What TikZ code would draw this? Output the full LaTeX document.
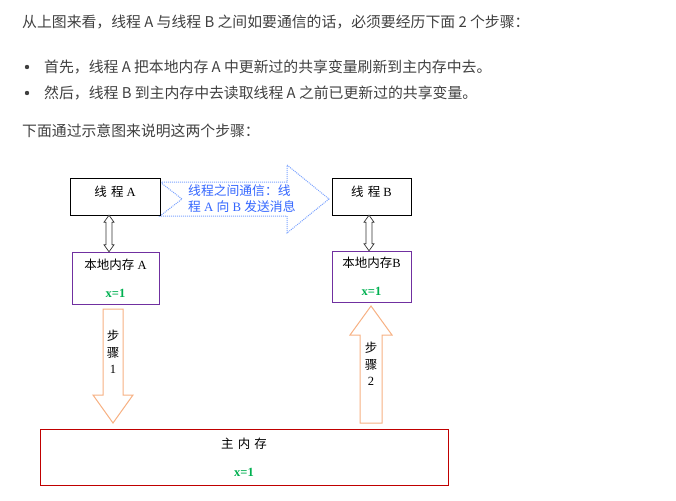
\documentclass[tikz,border=0pt]{standalone}
\usepackage{fontspec}
\usepackage{xcolor}
\usepackage{tikz}
\usetikzlibrary{positioning, calc}
\setmainfont{Liberation Serif}
\newfontfamily\cjk{Noto Sans CJK SC}
\definecolor{mygray}{rgb}{0.25, 0.25, 0.25}
\definecolor{myblue}{HTML}{3366FF}
\definecolor{mylightblue}{HTML}{7BA3FF}
\definecolor{mypurple}{HTML}{7030A0}
\definecolor{myred}{HTML}{C00000}
\definecolor{myorange}{HTML}{F7B183}
\definecolor{mygreen}{HTML}{00B050}
\tikzstyle{para} = [anchor=west, inner sep=0pt, text=mygray, font=\cjk\fontsize{14.85}{18}\selectfont]
\tikzstyle{thread} = [draw=black, minimum height=37pt, inner sep=0pt, text height=9pt, text depth=9pt, font=\fontsize{12.5}{14}\selectfont]
\tikzstyle{memory} = [minimum height=52pt, inner sep=0pt, align=center, font=\fontsize{12.5}{14}\selectfont]
\tikzstyle{link} = [draw=black!80, fill=white, line width=0.7pt]
\tikzstyle{steparrow} = [draw=myorange, fill=white, line width=1pt]
\tikzstyle{steptext} = [align=center, inner sep=0pt, font=\fontsize{12.5}{16.5}\selectfont]
\newcommand{\xval}{\textcolor{mygreen}{\bfseries x=1}}

\begin{document}
\begin{tikzpicture}[x=1pt, y=-1pt]
    \useasboundingbox (0,0) rectangle (676,500);
    % text above the figure
    \node[para] (intro) at (22,22) {从上图来看，线程 A 与线程 B 之间如要通信的话，必须要经历下面 2 个步骤：};
    \foreach \y in {67,93} \fill[mygray] (27,\y) circle (2.2pt);
    \node[para] (first) at (44,67) {首先，线程 A 把本地内存 A 中更新过的共享变量刷新到主内存中去。};
    \node[para] (then) at (44,93) {然后，线程 B 到主内存中去读取线程 A 之前已更新过的共享变量。};
    \node[para] (below) at (22,131) {下面通过示意图来说明这两个步骤：};

    % message between the threads
    \draw[mylightblue, densely dotted, line width=1pt, fill=white] (160,182) -- (287,182) -- (287,165) -- (329,199) -- (287,233) -- (287,216) -- (160,216) -- (182,199) -- cycle;
    \node[anchor=north west, align=left, inner sep=0pt, text=myblue, font=\fontsize{12.8}{16}\selectfont] (msg) at (188,184) {{\cjk 线程之间通信：线}\\{\cjk 程} A {\cjk 向} B {\cjk 发送消息}};

    \node[thread, minimum width=90pt] (ta) at (115,196.5) {{\cjk 线\,\,程} A};
    \node[thread, minimum width=79pt] (tb) at (371.5,196.5) {{\cjk 线\,\,程} B};
    \node[memory, draw=mypurple, minimum width=87pt] (ma) at (115.5,278) {{\cjk 本地内存} A\\[14pt]\xval};
    \node[memory, draw=mypurple, minimum width=79pt, minimum height=51pt] (mb) at (371.5,276.5) {{\cjk 本地内存}B\\[14pt]\xval};
    \node[memory, draw=myred, minimum width=408pt, minimum height=56pt] (main) at (244,457) {{\cjk 主\,\,内\,\,存}\\[14pt]\xval};

    % thread <-> local memory
    \foreach \t/\m/\c in {ta/ma/109, tb/mb/369}
        \draw[link] let \p1=(\c,0 |- \t.south), \p2=(\c,0 |- \m.north) in
            (\p1) -- ++(5pt,-7pt) -- ++(-2pt,0pt) -- (\x1+3pt,\y2+7pt) -- ++(2pt,0pt) -- (\p2)
            -- ++(-5pt,7pt) -- ++(2pt,0pt) -- (\x1-3pt,\y1-7pt) -- ++(-2pt,0pt) -- cycle;

    % step 1 and step 2
    \draw[steparrow] (103,309) -- (123,309) -- (123,395) -- (133,395) -- (113,423) -- (93,395) -- (103,395) -- cycle;
    \node[steptext] (s1) at (113,352) {{\cjk 步}\\{\cjk 骤}\\1};
    \draw[steparrow] (360,423) -- (382,423) -- (382,335) -- (392,335) -- (371,306) -- (350,335) -- (360,335) -- cycle;
    \node[steptext] (s2) at (371,364) {{\cjk 步}\\{\cjk 骤}\\2};
\end{tikzpicture}
\end{document}
